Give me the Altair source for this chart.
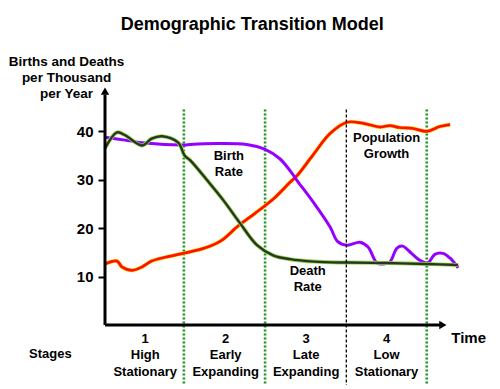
import altair as alt
import pandas as pd

FONT = "Liberation Sans"

# ---- data (time in stage units, rate per thousand) ----
birth_t = [0, 0.25, 0.5, 0.99, 1.06, 1.39, 1.76, 1.99, 2.17, 2.30, 2.39, 2.58, 2.80, 2.89, 3.01, 3.17,
           3.27, 3.38, 3.45, 3.54, 3.63, 3.70, 3.81, 3.91, 4.01, 4.10, 4.20, 4.29, 4.39]
birth_v = [38.8, 38.2, 37.6, 37.2, 37.3, 37.5, 37.3, 36.3, 34.4, 31.9, 29.8, 25.6, 20.2, 17.3, 16.5, 17.1,
           16.1, 12.8, 12.6, 13.0, 15.9, 16.3, 14.8, 13.4, 12.8, 14.6, 14.8, 13.8, 11.8]

death_t = [0, 0.15, 0.25, 0.46, 0.58, 0.71, 0.91, 0.99, 1.06, 1.27, 1.47, 1.68, 1.89, 2.09, 2.30,
           2.6, 3.0, 3.5, 4.0, 4.39]
death_v = [36.5, 39.8, 39.2, 37.1, 38.5, 39.0, 37.7, 35.0, 34.0, 29.9, 25.8, 21.0, 16.5, 14.4, 13.6,
           13.1, 12.9, 12.8, 12.6, 12.4]

pop_t = [0, 0.15, 0.21, 0.34, 0.46, 0.58, 0.75, 0.97, 1.24, 1.45, 1.65, 1.86, 2.11, 2.30, 2.39, 2.58,
         2.80, 3.01, 3.20, 3.42, 3.54, 3.66, 3.83, 4.0, 4.16, 4.29]
pop_v = [12.6, 13.2, 12.0, 11.3, 12.0, 13.2, 14.0, 14.8, 15.9, 17.5, 20.4, 23.0, 26.3, 29.5, 30.9, 35.0,
         39.6, 41.9, 41.7, 40.9, 41.2, 40.8, 40.6, 40.0, 41.0, 41.4]

green_bounds = [0.98, 1.99, 4.0]
black_bounds = [3.0]

stage_t = [0.5, 1.5, 2.5, 3.5]
stage_labels = ["1\nHigh\nStationary", "2\nEarly\nExpanding", "3\nLate\nExpanding", "4\nLow\nStationary"]

y_ticks = [10, 20, 30, 40]
y_title = ["Births and Deaths", "per Thousand", "per Year"]

# ---- encodings ----
xs = alt.Scale(domain=[0, 4.5], nice=False)
ys = alt.Scale(domain=[0, 50], nice=False)
X = alt.X("t:Q", scale=xs, axis=None)
Y = alt.Y("v:Q", scale=ys, axis=alt.Axis(
    values=y_ticks, domain=False, grid=False, tickSize=7, tickWidth=2, tickColor="black",
    labelFont=FONT, labelFontSize=15, labelFontWeight="bold", labelColor="black", labelPadding=5,
    title=y_title, titleAngle=0, titleAlign="center", titleBaseline="alphabetic",
    titleX=-39, titleY=-18, titleLineHeight=16, titleFont=FONT, titleFontSize=13.5,
    titleFontWeight="bold", titleColor="black"))


def df(t, v):
    return pd.DataFrame({"t": t, "v": v})


green_df = pd.DataFrame({"t": green_bounds, "v": [44.5] * len(green_bounds), "v2": [-12.8] * len(green_bounds)})
black_df = pd.DataFrame({"t": black_bounds, "v": [44.5], "v2": [-12.8]})

green_rules = alt.Chart(green_df).mark_rule(color="#1a961a", strokeWidth=2.6, strokeDash=[2, 2]).encode(
    x=X, y=Y, y2="v2:Q")
black_rules = alt.Chart(black_df).mark_rule(color="black", strokeWidth=1.3, strokeDash=[3, 2]).encode(
    x=X, y=Y, y2="v2:Q")

INTERP = "catmull-rom"
pop_halo = alt.Chart(df(pop_t, pop_v)).mark_line(color="#ffd800", strokeWidth=3.8, interpolate=INTERP).encode(x=X, y=Y)
pop_line = alt.Chart(df(pop_t, pop_v)).mark_line(color="#ff1000", strokeWidth=2.7, interpolate=INTERP).encode(x=X, y=Y)
birth_line = alt.Chart(df(birth_t, birth_v)).mark_line(color="#9500ff", strokeWidth=3, interpolate=INTERP).encode(x=X, y=Y)
death_halo = alt.Chart(df(death_t, death_v)).mark_line(color="#8fdc4a", strokeWidth=4, interpolate=INTERP).encode(x=X, y=Y)
death_line = alt.Chart(df(death_t, death_v)).mark_line(color="#2e3329", strokeWidth=2.4, interpolate=INTERP).encode(x=X, y=Y)

# axes drawn as arrows
yaxis_df = pd.DataFrame({"t": [0], "v": [0], "v2": [47.6]})
xaxis_df = pd.DataFrame({"t": [0], "t2": [4.17], "v": [0]})
yaxis = alt.Chart(yaxis_df).mark_rule(color="black", strokeWidth=3).encode(x=X, y=Y, y2="v2:Q")
xaxis = alt.Chart(xaxis_df).mark_rule(color="black", strokeWidth=3).encode(x=X, x2="t2:Q", y=Y)
yarrow = alt.Chart(pd.DataFrame({"t": [0], "v": [48.3]})).mark_point(
    shape="triangle-up", filled=True, size=70, color="black", opacity=1).encode(x=X, y=Y)
xarrow = alt.Chart(pd.DataFrame({"t": [4.2], "v": [0]})).mark_point(
    shape="triangle-right", filled=True, size=70, color="black", opacity=1).encode(x=X, y=Y)

# text annotations
def label(t, v, txt, size=13, align="center"):
    return alt.Chart(pd.DataFrame({"t": [t], "v": [v], "txt": [txt]})).mark_text(
        font=FONT, fontSize=size, fontWeight="bold", color="black", align=align,
        baseline="alphabetic", lineBreak="\n", lineHeight=size + 3).encode(x=X, y=Y, text="txt:N")

texts = [
    label(1.83, 60.9, "Demographic Transition Model", size=18),
    label(1.54, 34.0, "Birth\nRate"),
    label(2.52, 10.3, "Death\nRate"),
    label(3.50, 37.9, "Population\nGrowth"),
    label(4.52, -3.7, "Time", size=15),
    label(-0.68, -6.8, "Stages"),
]
stages = alt.Chart(pd.DataFrame({"t": stage_t, "v": [-3.7] * 4, "txt": stage_labels})).mark_text(
    font=FONT, fontSize=13, fontWeight="bold", color="black", align="center",
    baseline="alphabetic", lineBreak="\n", lineHeight=16.5).encode(x=X, y=Y, text="txt:N")

chart = alt.layer(
    green_rules, pop_halo, pop_line, birth_line, death_halo, death_line, black_rules,
    yaxis, xaxis, yarrow, xarrow, stages, *texts
).properties(
    width=362, height=242,
    autosize=alt.AutoSizeParams(type="none"),
    padding={"left": 97, "top": 75, "right": 20, "bottom": 60},
    background="white",
).configure_view(stroke=None)

chart.save("out.html", embed_options={"renderer": "svg", "actions": False})
